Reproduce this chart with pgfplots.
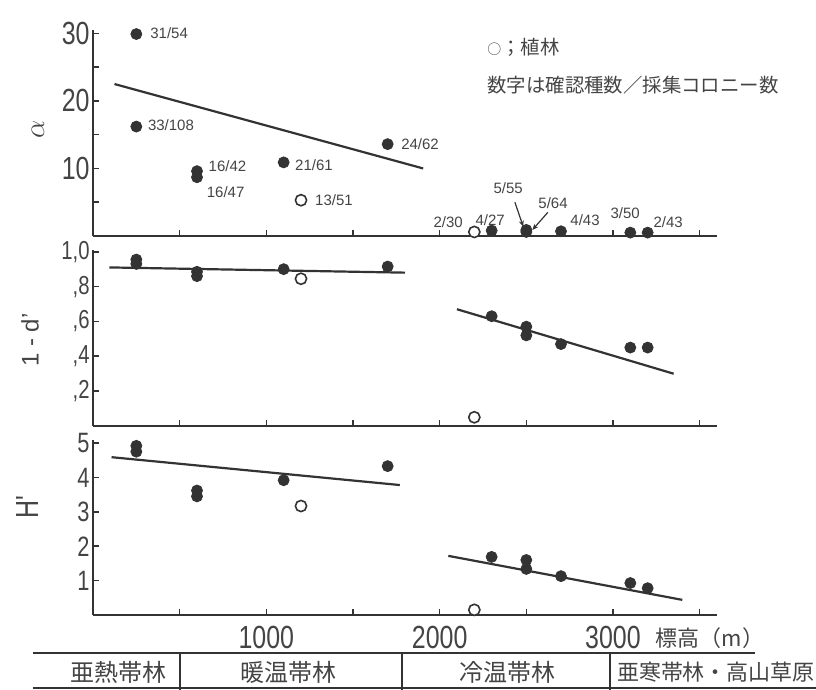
\documentclass[border=0pt]{standalone}
\usepackage{fontspec}
\usepackage{pgfplots}
\pgfplotsset{compat=1.18}
\usetikzlibrary{arrows.meta}
\setmainfont{Liberation Sans}
\newfontfamily\condfont[FakeStretch=0.78]{Liberation Sans}
\newfontfamily\jp{Noto Sans CJK JP}
\definecolor{ink}{HTML}{333333}
\definecolor{txt}{HTML}{444444}
\tikzset{lab/.style={font=\fontsize{7.5}{8}\selectfont, text=txt, inner sep=0pt}}
\pgfplotsset{
  panel/.style={
    scale only axis, width=312pt, xmin=0, xmax=3600, ymin=0,
    axis x line=bottom, axis y line=left,
    axis line style={-, draw=ink, line width=1pt},
    tick align=inside, major tick length=3pt, minor tick length=3pt,
    every tick/.style={draw=ink, line width=0.8pt},
    xtick={500,1000,1500,2000,2500,3000,3500}, xticklabels={},
    clip=false, anchor=south west,
    yticklabel style={text=txt, inner sep=1.5pt},
    xticklabel style={text=txt},
  },
  fillpt/.style={only marks, mark=*, mark size=2.75pt, mark options={fill=ink, draw=ink}},
  openpt/.style={only marks, mark=*, mark size=2.8pt, mark options={fill=white, draw=ink, line width=0.8pt}},
  trend/.style={no marks, draw=ink, line width=1.1pt},
}
\begin{document}
\begin{tikzpicture}
\path[use as bounding box] (0pt,0pt) rectangle (408pt,-345pt);

% ---------- top panel: alpha ----------
\begin{axis}[panel, at={(46.5pt,-118pt)}, height=103pt, ymax=30.5,
  ytick={10,20,30}, yticklabels={10,20,30}, minor ytick={5,15,25},
  yticklabel style={font=\condfont\fontsize{16}{16}\selectfont}]
\addplot[trend] coordinates {(124,22.5) (1905,10.0)};
\addplot[fillpt] coordinates {(250,29.9) (250,16.2) (600,9.6) (600,8.7) (1100,10.9) (1700,13.6)
  (2300,0.8) (2500,0.9) (2500,0.6) (2700,0.7) (3100,0.5) (3200,0.5)};
\addplot[openpt] coordinates {(1200,5.3) (2200,0.6)};
\node[lab] at (axis cs:439,30.0) {31/54};
\node[lab] at (axis cs:450,16.4) {33/108};
\node[lab] at (axis cs:776,10.3) {16/42};
\node[lab] at (axis cs:765,6.5) {16/47};
\node[lab] at (axis cs:1275,10.5) {21/61};
\node[lab] at (axis cs:1390,5.3) {13/51};
\node[lab] at (axis cs:1887,13.6) {24/62};
\node[lab] at (axis cs:2049,2.1) {2/30};
\node[lab] at (axis cs:2291,2.4) {4/27};
\node[lab] at (axis cs:2395,7.1) {5/55};
\node[lab] at (axis cs:2654,4.9) {5/64};
\node[lab] at (axis cs:2839,2.4) {4/43};
\node[lab] at (axis cs:3070,3.4) {3/50};
\node[lab] at (axis cs:3318,2.1) {2/43};
\draw[ink, line width=0.6pt, -{Stealth[length=3pt,width=2.5pt]}] (axis cs:2434,5.0) -- (axis cs:2482,1.4);
\draw[ink, line width=0.6pt, -{Stealth[length=3pt,width=2.5pt]}] (axis cs:2624,3.5) -- (axis cs:2535,0.9);
\end{axis}

% ---------- middle panel: 1-d' ----------
\begin{axis}[panel, at={(46.5pt,-213pt)}, height=88pt, ymax=1.01,
  ytick={0.2,0.4,0.6,0.8,1.0}, yticklabels={{,2},{,4},{,6},{,8},{1,0}},
  yticklabel style={font=\condfont\fontsize{13}{13}\selectfont}]
\addplot[trend] coordinates {(95,0.91) (1800,0.88)};
\addplot[trend] coordinates {(2100,0.67) (3350,0.30)};
\addplot[fillpt] coordinates {(250,0.955) (250,0.93) (600,0.885) (600,0.86) (1100,0.90) (1700,0.915)
  (2300,0.63) (2500,0.57) (2500,0.52) (2700,0.47) (3100,0.45) (3200,0.45)};
\addplot[openpt] coordinates {(1200,0.845) (2200,0.05)};
\end{axis}

% ---------- bottom panel: H' ----------
\begin{axis}[panel, at={(46.5pt,-307.5pt)}, height=87.5pt, ymax=5.09,
  ytick={1,2,3,4,5}, yticklabels={1,2,3,4,5},
  yticklabel style={font=\condfont\fontsize{14}{14}\selectfont},
  xticklabels={,1000,,2000,,3000,},
  xticklabel style={font=\condfont\fontsize{16}{16}\selectfont, yshift=-2pt}]
\addplot[trend] coordinates {(107,4.59) (1770,3.78)};
\addplot[trend] coordinates {(2050,1.72) (3400,0.44)};
\addplot[fillpt] coordinates {(250,4.92) (250,4.75) (600,3.62) (600,3.45) (1100,3.92) (1700,4.33)
  (2300,1.69) (2500,1.6) (2500,1.34) (2700,1.13) (3100,0.93) (3200,0.78)};
\addplot[openpt] coordinates {(1200,3.17) (2200,0.15)};
\end{axis}

% ---------- axis titles ----------
\node[rotate=90, text=txt, font=\fontsize{15}{15}\selectfont] at (19pt,-64.5pt) {$\alpha$};
\node[rotate=90, text=txt, font=\fontsize{12}{12}\selectfont] at (15pt,-170pt) {1 - d'};
\node[rotate=90, text=txt, font=\condfont\fontsize{16}{16}\selectfont] at (13.5pt,-253.5pt) {H'};
\node[text=txt, font=\jp\fontsize{11}{11}\selectfont] at (355pt,-319pt) {標高（m）};

% ---------- legend notes ----------
\node[anchor=west, inner sep=0pt, text=txt, font=\jp\fontsize{9.7}{10}\selectfont] at (243.5pt,-23.5pt) {{\fontsize{7}{7}\selectfont ○}；植林};
\node[anchor=west, inner sep=0pt, text=txt, font=\jp\fontsize{9.7}{10}\selectfont] at (243.5pt,-42.5pt) {数字は確認種数／採集コロニー数};

% ---------- vegetation zone table ----------
\draw[ink, line width=1pt] (16.5pt,-326.5pt) -- (377.5pt,-326.5pt);
\draw[ink, line width=1pt] (16.5pt,-344pt) -- (408pt,-344pt);
\draw[ink, line width=0.8pt] (90pt,-326.5pt) -- (90pt,-345pt);
\draw[ink, line width=0.8pt] (201pt,-326.5pt) -- (201pt,-345pt);
\draw[ink, line width=0.8pt] (305pt,-326.5pt) -- (305pt,-345pt);
\node[text=txt, font=\jp\fontsize{12}{12}\selectfont] at (59pt,-336pt) {亜熱帯林};
\node[text=txt, font=\jp\fontsize{12}{12}\selectfont] at (144.5pt,-336pt) {暖温帯林};
\node[text=txt, font=\jp\fontsize{12}{12}\selectfont] at (253.5pt,-336pt) {冷温帯林};
\node[text=txt, font=\jp\fontsize{11}{11}\selectfont] at (358pt,-336pt) {亜寒帯林・高山草原};
\end{tikzpicture}
\end{document}
